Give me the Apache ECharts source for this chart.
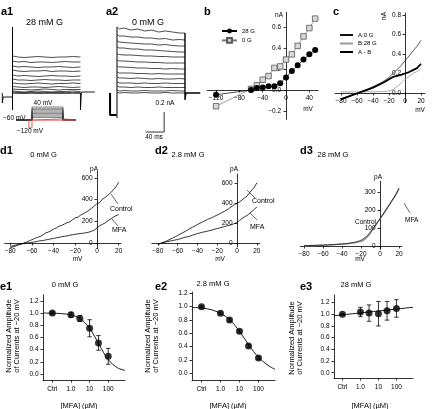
<!DOCTYPE html>
<html><head><meta charset="utf-8">
<script src="https://cdn.jsdelivr.net/npm/echarts@6/dist/echarts.min.js"></script>
<style>html,body{margin:0;padding:0;background:#fff}#c{width:432px;height:409px}</style>
</head><body><div id="c"></div>
<script>
// ---------------- DATA ----------------
// a1 / a2 current traces (time in ms, current in nA)
const a1T = [0.5, 12, 25, 40, 55, 70, 85, 100, 115, 130, 147];
const a1Traces = [
  [0.37,0.36,0.355,0.36,0.365,0.36,0.355,0.36,0.36,0.365,0.36],
  [0.32,0.31,0.315,0.305,0.31,0.31,0.305,0.31,0.315,0.31,0.31],
  [0.27,0.26,0.265,0.26,0.255,0.26,0.26,0.265,0.26,0.255,0.26],
  [0.23,0.22,0.215,0.22,0.22,0.225,0.215,0.22,0.22,0.215,0.22],
  [0.18,0.17,0.175,0.17,0.165,0.17,0.175,0.17,0.17,0.165,0.17],
  [0.14,0.13,0.13,0.125,0.13,0.135,0.13,0.13,0.125,0.13,0.13],
  [0.10,0.095,0.09,0.095,0.1,0.095,0.09,0.095,0.095,0.1,0.095],
  [0.065,0.06,0.055,0.06,0.06,0.055,0.06,0.065,0.06,0.055,0.06],
  [0.04,0.035,0.035,0.03,0.035,0.04,0.035,0.03,0.035,0.035,0.035],
  [0.02,0.015,0.01,0.015,0.02,0.015,0.01,0.015,0.015,0.02,0.015],
  [0.008,0.005,0.004,0.006,0.005,0.004,0.006,0.005,0.004,0.006,0.005],
  [-0.002,-0.004,-0.005,-0.003,-0.005,-0.004,-0.003,-0.005,-0.004,-0.003,-0.004]
];
const a1Pre = [[-22,0.0],[-22,-0.1],[-20,-0.04],[0,-0.04]];
const a1Onset = [[0,-0.17],[0,0.66]];
const a1Offset = [[147,0.0],[147,-0.17],[149,0.01],[178,0.01]];

const a2T = [0.5, 5, 15, 30, 45, 60, 75, 90, 105, 120, 135, 147];
const a2Traces = [
  [0.66,0.64,0.65,0.63,0.64,0.62,0.63,0.61,0.62,0.61,0.6,0.6],
  [0.58,0.57,0.57,0.56,0.56,0.55,0.55,0.54,0.545,0.53,0.535,0.53],
  [0.52,0.51,0.505,0.5,0.495,0.49,0.49,0.48,0.485,0.475,0.47,0.47],
  [0.46,0.45,0.45,0.44,0.44,0.43,0.43,0.425,0.42,0.415,0.41,0.41],
  [0.39,0.385,0.38,0.38,0.375,0.37,0.37,0.365,0.365,0.36,0.36,0.36],
  [0.33,0.32,0.32,0.315,0.31,0.31,0.305,0.305,0.3,0.3,0.3,0.3],
  [0.27,0.26,0.26,0.255,0.25,0.25,0.245,0.245,0.24,0.245,0.24,0.24],
  [0.21,0.2,0.2,0.2,0.195,0.195,0.19,0.195,0.19,0.19,0.19,0.19],
  [0.16,0.15,0.15,0.145,0.15,0.145,0.14,0.145,0.14,0.14,0.145,0.14],
  [0.11,0.1,0.1,0.1,0.095,0.1,0.095,0.095,0.1,0.095,0.095,0.095],
  [0.07,0.06,0.06,0.055,0.06,0.055,0.055,0.06,0.055,0.055,0.055,0.055],
  [0.03,0.02,0.025,0.02,0.02,0.025,0.02,0.02,0.02,0.025,0.02,0.02],
  [0.005,0.0,0.005,0.0,0.0,0.005,0.0,0.0,0.005,0.0,0.0,0.0]
];
const a2Pre = [[-15,0.0],[-15,-0.22],[-1,-0.22]];
const a2Onset = [[0,-0.25],[0,0.66]];
const a2Offset = [[147,0.6],[147,-0.07],[149,0.0],[180,0.0]];
const scaleBar = [[62,-0.39],[102,-0.39],[102,-0.19]];

// voltage protocol (ms, mV)
const protoLevels = [-50,-40,-30,-20,-10,0,10,20,30,40];
const protoHold = -60, protoPre = -120;
const protoTimes = [-77, -15, 0, 150, 213];

// b: I-V (mV, nA)
const bV = [-120,-60,-50,-40,-30,-20,-10,0,10,20,30,40,50];
const b28G = [-0.045,0.0,0.02,0.025,0.035,0.035,0.065,0.12,0.18,0.235,0.29,0.34,0.38];
const b0G = [-0.155,0.01,0.045,0.098,0.133,0.21,0.225,0.29,0.34,0.42,0.51,0.59,0.68];
const bXTicks = [-120,-80,-40,0,40];
const bYTicks = [-0.2,0,0.2,0.4,0.6];

// c: ramp currents (mV, nA)
const cV = [-80,-75,-70,-65,-60,-55,-50,-45,-40,-35,-30,-25,-20,-15,-10,-5,0,5,10,15,20];
const cA = [-0.06,-0.045,-0.03,-0.015,0.0,0.015,0.03,0.045,0.065,0.085,0.105,0.13,0.16,0.2,0.24,0.28,0.33,0.38,0.43,0.48,0.54];
const cB = [0.01,0.012,0.01,0.012,0.01,0.012,0.01,0.013,0.012,0.014,0.015,0.016,0.02,0.035,0.065,0.1,0.14,0.17,0.2,0.22,0.25];
const cAB = [-0.065,-0.05,-0.035,-0.02,-0.005,0.01,0.025,0.04,0.055,0.075,0.095,0.115,0.14,0.165,0.175,0.185,0.2,0.215,0.235,0.255,0.3];
const cXTicks = [-80,-60,-40,-20,0,20];
const cYTicks = [0,0.2,0.4,0.6,0.8];

// d: ramp currents (mV, pA)
const dV = [-80,-77.5,-75,-72.5,-70,-67.5,-65,-62.5,-60,-57.5,-55,-52.5,-50,-47.5,-45,-42.5,-40,-37.5,-35,-32.5,-30,-27.5,-25,-22.5,-20,-17.5,-15,-12.5,-10,-7.5,-5,-2.5,0,2.5,5,7.5,10,12.5,15,17.5,20];
const d1Ctrl = [-45,-36,-28,-18,-10,0,8,20,30,42,52,60,72,92,100,112,128,138,155,162,175,188,195,215,232,238,258,270,285,300,320,340,365,372,405,420,440,462,490,520,560];
const d1MFA = [-32,-26,-20,-15,-10,-5,0,2,6,10,15,20,22,28,32,38,42,48,52,58,62,65,72,76,80,84,88,90,95,100,108,118,140,160,172,185,205,220,238,252,262];
const d2Ctrl = [-15,-5,5,15,25,38,50,62,75,90,102,115,130,145,158,170,185,198,210,222,235,245,255,268,280,292,305,318,332,350,368,385,400,410,430,450,468,500,530,560,600];
const d2MFA = [-10,-5,2,8,15,20,25,30,35,42,50,58,62,68,78,85,95,100,108,112,118,125,130,138,145,150,158,165,172,178,185,195,205,225,245,262,275,295,315,338,360];
const d3Ctrl = [2,3,2,4,3,5,4,6,5,7,6,8,8,9,10,11,12,13,14,16,18,20,23,27,32,40,50,62,78,96,115,133,152,172,192,212,232,252,272,295,322];
const d3MFA = [0,1,0,2,1,3,2,4,3,5,4,6,6,7,8,9,10,11,12,13,15,17,19,22,25,32,42,55,72,92,112,132,150,168,188,208,228,250,270,292,318];
const dXTicks = [-80,-60,-40,-20,0,20];
const d12YTicks = [0,200,400,600];
const d3YTicks = [0,100,200,300];

// e: dose-response (conc in µM, Ctrl plotted at 0.1)
const eConc = [0.1, 1, 3, 10, 30, 100];
const e1Mean = [1.0, 0.97, 0.91, 0.75, 0.51, 0.29];
const e1Err  = [0.02, 0.04, 0.05, 0.14, 0.12, 0.13];
const e2Mean = [1.0, 0.9, 0.8, 0.63, 0.41, 0.23];
const e2Err  = [0.01, 0.02, 0.02, 0.02, 0.02, 0.02];
const e3Mean = [1.0, 1.04, 1.02, 1.01, 1.06, 1.10];
const e3Err  = [0.01, 0.08, 0.14, 0.21, 0.16, 0.15];
const e1FitConc = [0.032, 0.1, 0.32, 1, 3.2, 10, 32, 100, 320, 790];
const e1FitY = [0.999, 0.997, 0.99, 0.968, 0.905, 0.75, 0.487, 0.235, 0.1, 0.06];
const e2FitConc = [0.032, 0.1, 0.32, 1, 3.2, 10, 32, 100, 320, 740];
const e2FitY = [0.99, 0.98, 0.955, 0.9, 0.8, 0.63, 0.42, 0.24, 0.12, 0.06];
const e3FitConc = [0.034, 830];
const e3FitY = [0.975, 1.12];
const eYTicks = [0,0.2,0.4,0.6,0.8,1.0,1.2];
const eXTickConc = [0.1, 1, 10, 100];
const eXTickLabels = ['Ctrl','1.0','10','100'];

// ---------------- BUILD ----------------
const FONT = "'Liberation Sans', Arial, Helvetica, sans-serif";
const grids = [], xAxes = [], yAxes = [], series = [];
const mInt = v => (v < 0 ? '\u2212' : '') + Math.abs(Math.round(v));
const m1 = v => (v < 0 ? '\u2212' : '') + Math.abs(v).toFixed(1);
const zip = (xs, ys) => xs.map((x, i) => [x, ys[i]]);
const lg = c => Math.log10(c);

function panel(rect, xa, ya) {
  const i = grids.length;
  grids.push(Object.assign({show:false, containLabel:false}, rect));
  xa.gridIndex = i; ya.gridIndex = i; xAxes.push(xa); yAxes.push(ya); return i;
}
// axes crossing at the data origin: shift the axes with offsets computed from the scales
function zeroPanel(rect, xa, ya) {
  xa.offset = -((0 - ya.min) / (ya.max - ya.min)) * rect.height;
  ya.offset = -((0 - xa.min) / (xa.max - xa.min)) * rect.width;
  return panel(rect, xa, ya);
}
function hid(min, max) {
  return {type:'value', min, max, show:false, splitLine:{show:false}};
}
function ax(dim, min, max, ticks, fmt, margin) {
  return {type:'value', min, max, position: dim === 'x' ? 'bottom' : 'left',
    axisLine:{show:true, onZero:false, lineStyle:{color:'#000', width:0.8}},
    axisTick:{show:true, customValues:ticks, length:2.5, lineStyle:{color:'#000', width:0.8}},
    axisLabel:{show:true, customValues:ticks, formatter:fmt, fontSize:6.5, fontFamily:FONT, color:'#000', margin:margin},
    splitLine:{show:false}};
}
function line(gi, data, color, width, extra) {
  return Object.assign({type:'line', xAxisIndex:gi, yAxisIndex:gi, data, symbol:'none', showSymbol:false,
    lineStyle:{color, width}, itemStyle:{color}, animation:false, silent:true, z:2}, extra || {});
}

// a1
const gA1 = panel({left:0, top:20, width:100, height:115}, hid(-27.03, 189.2), hid(-0.42, 0.73));
a1Traces.forEach(tr => series.push(line(gA1, zip(a1T, tr), '#000', 0.7)));
series.push(line(gA1, a1Pre, '#000', 0.9));
series.push(line(gA1, a1Onset, '#000', 1));
series.push(line(gA1, a1Offset, '#000', 0.9));
// a2
const gA2 = panel({left:107, top:20, width:100, height:115}, hid(-21.6, 194.6), hid(-0.42, 0.73));
a2Traces.forEach(tr => series.push(line(gA2, zip(a2T, tr), '#000', 0.7)));
series.push(line(gA2, a2Pre, '#000', 2));
series.push(line(gA2, a2Onset, '#000', 1));
series.push(line(gA2, a2Offset, '#000', 1.4));
series.push(line(gA2, scaleBar, '#000', 0.8));
// protocol
const gP = panel({left:0, top:95, width:100, height:40}, hid(-154.8, 329.0), hid(-173.7, 131.6));
protoLevels.forEach(L => series.push(line(gP, [[protoTimes[0],protoHold],[protoTimes[2],protoHold],[protoTimes[2],L],[protoTimes[3],L],[protoTimes[3],protoHold],[protoTimes[4],protoHold]], '#3a3a3a', 0.6)));
series.push(line(gP, [[protoTimes[1],protoHold],[protoTimes[1],protoPre],[protoTimes[2],protoPre],[protoTimes[2],protoHold],[protoTimes[4],protoHold]], '#ee5a55', 1, {z:3}));

// b
const gB = zeroPanel({left:207.3, top:12.3, width:110.8, height:107.1},
  ax('x', -135, 55, bXTicks, mInt, 5), ax('y', -0.28, 0.74, bYTicks, m1, 5));
series.push(line(gB, zip(bV, b0G), '#777', 0.7, {name:'0 G', symbol:'rect', showSymbol:true, symbolSize:5.5,
  itemStyle:{color:'#d8d8d8', borderColor:'#555', borderWidth:0.8}, z:3}));
series.push(line(gB, zip(bV, b28G), '#000', 0.7, {name:'28 G', symbol:'circle', showSymbol:true, symbolSize:6,
  itemStyle:{color:'#000'}, z:4}));

// c
const gC = zeroPanel({left:335, top:13.05, width:90, height:89.7},
  ax('x', -87.5, 25, cXTicks, mInt, 5), ax('y', -0.1, 0.82, cYTicks, m1, 4));
series.push(line(gC, zip(cV, cB), '#9a9a9a', 0.8, {name:'B:28 G'}));
series.push(line(gC, zip(cV, cA), '#111', 0.7, {name:'A:0 G'}));
series.push(line(gC, zip(cV, cAB), '#000', 1.8, {name:'A - B'}));

// d1
const gD1 = zeroPanel({left:4.8, top:171.4, width:116.1, height:77.0},
  ax('x', -85, 22, dXTicks, mInt, 4.5), ax('y', -50, 660, d12YTicks, mInt, 4.5));
series.push(line(gD1, zip(dV, d1MFA), '#000', 0.8));
series.push(line(gD1, zip(dV, d1Ctrl), '#000', 0.8));
// d2
const gD2 = zeroPanel({left:151.9, top:174, width:107.9, height:73},
  ax('x', -86, 23, dXTicks, mInt, 4.5), ax('y', -40, 690, d12YTicks, mInt, 4.5));
series.push(line(gD2, zip(dV, d2MFA), '#000', 0.8));
series.push(line(gD2, zip(dV, d2Ctrl), '#000', 0.8));
// d3
const gD3 = zeroPanel({left:300.2, top:181.2, width:101.65, height:68.4},
  ax('x', -84, 23, dXTicks, mInt, 4.5), ax('y', -20, 360, d3YTicks, mInt, 4.5));
series.push(line(gD3, zip(dV, d3MFA), '#7a7a7a', 1.1));
series.push(line(gD3, zip(dV, d3Ctrl), '#000', 0.7));

// e panels
const eFmtX = v => { const k = eXTickConc.findIndex(c => Math.abs(lg(c) - v) < 1e-6); return k >= 0 ? eXTickLabels[k] : ''; };
const eTickPos = eXTickConc.map(lg);
function ePanel(rect, xmin, xmax, ymin, ymax, mean, err, fitC, fitY) {
  const gi = panel(rect, ax('x', xmin, xmax, eTickPos, eFmtX, 6), ax('y', ymin, ymax, eYTicks, m1, 4.5));
  series.push(line(gi, fitC.map((c, i) => [lg(c), fitY[i]]), '#000', 0.9, {smooth:0.35}));
  series.push({type:'custom', xAxisIndex:gi, yAxisIndex:gi, silent:true, animation:false, z:3,
    data: eConc.map((c, i) => [lg(c), mean[i] - err[i], mean[i] + err[i]]),
    encode:{x:0, y:[1,2]},
    renderItem: (p, api) => {
      const x = api.value(0);
      const lo = api.coord([x, api.value(1)]), hi = api.coord([x, api.value(2)]);
      const w = 2.2, st = {stroke:'#000', lineWidth:0.8};
      return {type:'group', children:[
        {type:'line', shape:{x1:lo[0], y1:lo[1], x2:hi[0], y2:hi[1]}, style:st},
        {type:'line', shape:{x1:lo[0]-w, y1:lo[1], x2:lo[0]+w, y2:lo[1]}, style:st},
        {type:'line', shape:{x1:hi[0]-w, y1:hi[1], x2:hi[0]+w, y2:hi[1]}, style:st}]};
    }});
  series.push({type:'scatter', xAxisIndex:gi, yAxisIndex:gi, silent:true, animation:false, z:4,
    data: eConc.map((c, i) => [lg(c), mean[i]]), symbol:'circle', symbolSize:7, itemStyle:{color:'#000'}});
}
ePanel({left:43, top:294.7, width:82, height:85.4}, -1.5, 2.9, -0.1, 1.3, e1Mean, e1Err, e1FitConc, e1FitY);
ePanel({left:192, top:292, width:83, height:88}, -1.5, 2.87, -0.1, 1.22, e2Mean, e2Err, e2FitConc, e2FitY);
ePanel({left:334, top:295, width:79, height:83}, -1.47, 2.92, -0.09, 1.33, e3Mean, e3Err, e3FitConc, e3FitY);

// ---------------- TEXT ----------------
function T(text, x, y, size, align, extra) {
  extra = extra || {};
  const st = Object.assign({text, fontSize:size, fontFamily:FONT, fill:'#000', align:align || 'center', verticalAlign:'middle',
      textAlign:align || 'center', textVerticalAlign:'middle'}, extra.style || {});
  const o = Object.assign({type:'text', x, y, silent:true, z:10}, extra);
  o.style = st;
  return o;
}
function B(text, x, y) { return T(text, x, y, 11, 'left', {style:{fontWeight:'bold'}}); }
function L(x1, y1, x2, y2) { return {type:'line', silent:true, z:10, shape:{x1, y1, x2, y2}, style:{stroke:'#000', lineWidth:0.6}}; }
const els = [
  B('a1', 1, 11.5), B('a2', 106, 11.5), B('b', 204, 11.5), B('c', 333, 11.5),
  B('d1', 0, 151), B('d2', 155, 151), B('d3', 300, 151),
  B('e1', 0, 287), B('e2', 155, 287), B('e3', 300, 287),
  T('28 mM G', 44.5, 23, 9), T('0 mM G', 148, 23, 9),
  T('40 mV', 43, 103, 6.5), T('\u221260 mV', 3, 118, 6.5, 'left'), T('\u2212120 mV', 30, 131, 6.5),
  T('0.2 nA', 165, 103, 6.5), T('40 ms', 154, 137, 6.5),
  T('nA', 279, 15, 6.5), T('mV', 308, 109, 6.5),
  T('nA', 384, 16, 6.5, 'center', {rotation: Math.PI / 2}), T('mV', 420, 110, 6.5),
  T('0 mM G', 43.5, 155, 7.5), T('2.8 mM G', 188, 155, 7.5), T('28 mM G', 333, 155, 7.5),
  T('pA', 94, 169, 6.5), T('mV', 77.5, 259, 6.5),
  T('pA', 234, 169, 6.5), T('mV', 220, 259, 6.5),
  T('pA', 378, 177, 6.5), T('mV', 360, 259, 6.5),
  T('Control', 110, 209, 7, 'left'), T('MFA', 112, 230, 7, 'left'),
  L(111, 194, 118, 204), L(112, 219, 118, 226),
  T('Control', 252, 201, 7, 'left'), T('MFA', 250, 227, 7, 'left'),
  L(247, 190, 255, 198), L(250, 213, 257, 220),
  T('Control', 376, 222, 6.5, 'right'), T('MFA', 405, 220, 6.5, 'left'),
  L(404, 203, 410, 213),
  T('0 mM G', 65, 285, 7.5), T('2.8 mM G', 213, 284, 7.5), T('28 mM G', 356, 285, 7.5),
  T('[MFA] (\u00b5M)', 79, 406, 7.5), T('[MFA] (\u00b5M)', 228, 406, 7.5), T('[MFA] (\u00b5M)', 370, 406, 7.5)
];
[[12.5, 336], [151.5, 336], [295.5, 338]].forEach(p => {
  els.push(T('Normalized Amplitude\nof Currents at \u221220 mV', p[0], p[1], 7.5, 'center',
    {rotation: Math.PI / 2, style:{lineHeight:8}}));
});

const option = {
  animation:false,
  backgroundColor:'#fff',
  textStyle:{fontFamily:FONT},
  grid: grids, xAxis: xAxes, yAxis: yAxes,
  legend: [
    {data:['28 G','0 G'], orient:'vertical', left:221, top:28, itemWidth:15, itemHeight:6, itemGap:3, padding:0,
     selectedMode:false, textStyle:{fontSize:6, fontFamily:FONT, color:'#000'}},
    {data:['A:0 G','B:28 G','A - B'], orient:'vertical', left:339, top:32, itemWidth:13, itemHeight:6, itemGap:2.5, padding:0,
     selectedMode:false, itemStyle:{opacity:0}, textStyle:{fontSize:6, fontFamily:FONT, color:'#000'}}
  ],
  series,
  graphic: {elements: els}
};
const chart = echarts.init(document.getElementById('c'), null, {renderer:'canvas'});
chart.setOption(option);
</script></body></html>
